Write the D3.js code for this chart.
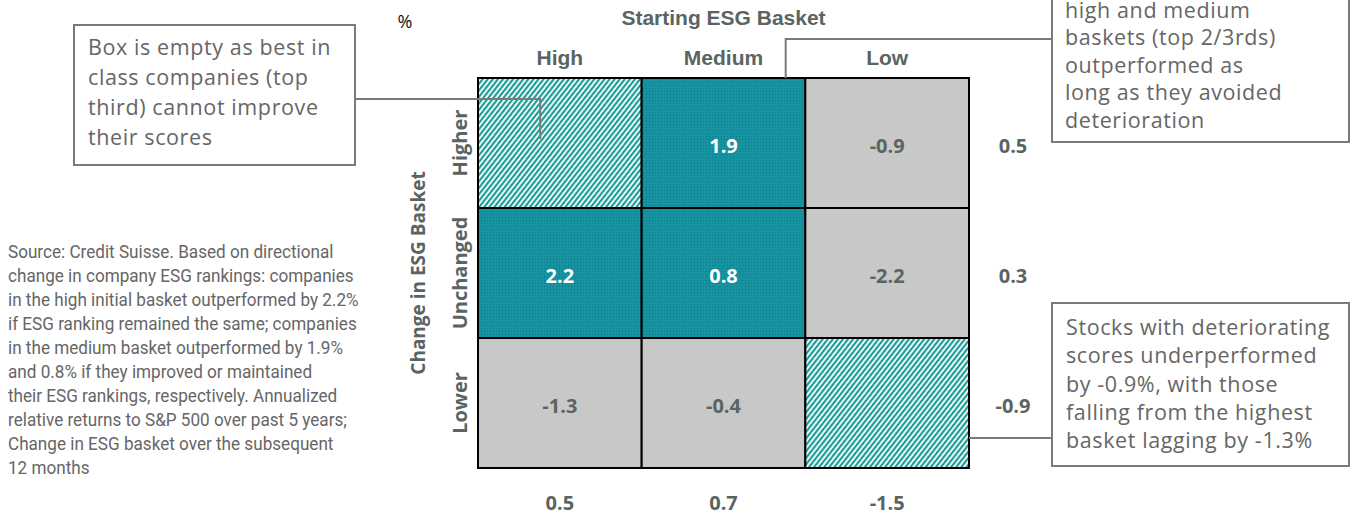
<!DOCTYPE html>
<html>
<head>
<meta charset="utf-8">
<script src="https://cdn.jsdelivr.net/npm/d3@7"></script>
<style>
  html, body { margin: 0; padding: 0; background: #ffffff; }
  svg { display: block; }
</style>
</head>
<body>
<svg id="chart" width="1354" height="516"></svg>
<script>
// Starting ESG basket (columns) and change in ESG basket (rows)
const startBaskets = ["High", "Medium", "Low"];
const changeBaskets = ["Higher", "Unchanged", "Lower"];

// Annualized relative returns, % (null = empty box)
const higherRow    = [null, 1.9, -0.9];
const unchangedRow = [2.2, 0.8, -2.2];
const lowerRow     = [-1.3, -0.4, null];

// Row and column averages
const rowTotals = [0.5, 0.3, -0.9];
const colTotals = [0.5, 0.7, -1.5];

const headerTitle = "Starting ESG Basket";
const sideTitle = "Change in ESG Basket";
const unitLabel = "%";

const noteEmpty = ["Box is empty as best in", "class companies (top", "third) cannot improve", "their scores"];
const noteTop = ["high and medium", "baskets (top 2/3rds)", "outperformed as", "long as they avoided", "deterioration"];
const noteLower = ["Stocks with deteriorating", "scores underperformed", "by -0.9%, with those", "falling from the highest", "basket lagging by -1.3%"];
const sourceLines = [
  "Source: Credit Suisse. Based on directional",
  "change in company ESG rankings: companies",
  "in the high initial basket outperformed by 2.2%",
  "if ESG ranking remained the same; companies",
  "in the medium basket outperformed by 1.9%",
  "and 0.8% if they improved or maintained",
  "their ESG rankings, respectively. Annualized",
  "relative returns to S&P 500 over past 5 years;",
  "Change in ESG basket over the subsequent",
  "12 months"
];

const rows = [higherRow, unchangedRow, lowerRow];
const cells = [];
rows.forEach((r, i) => r.forEach((v, j) => cells.push({row: changeBaskets[i], col: startBaskets[j], value: v})));

const svg = d3.select("#chart");
const grid = {left: 478, right: 969, top: 78, bottom: 468};

const x = d3.scaleBand().domain(startBaskets).range([grid.left, grid.right]);
const y = d3.scaleBand().domain(changeBaskets).range([grid.top, grid.bottom]);

const labelColor = "#5a6462";
const noteColor = "#666666";
const boxColor = "#7a7a7a";
const boldFont = "'Open Sans', 'Noto Sans', sans-serif";
const headFont = "'Liberation Sans', Arial, sans-serif";

// One decimal, plain hyphen for negatives
const fmt = v => d3.format(".1f")(v).replace("\u2212", "-");

// Fill patterns
const defs = svg.append("defs");
const hatch = defs.append("pattern")
  .attr("id", "hatch").attr("patternUnits", "userSpaceOnUse")
  .attr("width", 4).attr("height", 10)
  .attr("patternTransform", "rotate(38)");
hatch.append("rect").attr("width", 4).attr("height", 10).attr("fill", "#ffffff");
hatch.append("rect").attr("width", 2.2).attr("height", 10).attr("fill", "#1c9e98");

const dots = defs.append("pattern")
  .attr("id", "dots").attr("patternUnits", "userSpaceOnUse")
  .attr("width", 3).attr("height", 3);
dots.append("rect").attr("width", 3).attr("height", 3).attr("fill", "#1792a0");
dots.append("rect").attr("x", 1).attr("y", 1).attr("width", 1).attr("height", 1).attr("fill", "#0c7a89");

function cellFill(v) {
  if (v === null) return "url(#hatch)";
  return v > 0 ? "url(#dots)" : "#c8c8c8";
}

// Cells
svg.append("g").selectAll("rect").data(cells).join("rect")
  .attr("x", d => x(d.col)).attr("y", d => y(d.row))
  .attr("width", x.bandwidth()).attr("height", y.bandwidth())
  .attr("fill", d => cellFill(d.value))
  .attr("stroke", "#000").attr("stroke-width", 2);

// Cell values
svg.append("g").selectAll("text").data(cells.filter(d => d.value !== null)).join("text")
  .attr("x", d => x(d.col) + x.bandwidth() / 2)
  .attr("y", d => y(d.row) + y.bandwidth() / 2 + 2)
  .attr("text-anchor", "middle").attr("dominant-baseline", "central")
  .attr("font-family", boldFont).attr("font-weight", 700).attr("font-size", 20)
  .attr("fill", d => d.value > 0 ? "#ffffff" : labelColor)
  .text(d => fmt(d.value));

// Column header labels
svg.append("g").selectAll("text").data(startBaskets).join("text")
  .attr("x", d => x(d) + x.bandwidth() / 2).attr("y", 65)
  .attr("text-anchor", "middle")
  .attr("font-family", headFont).attr("font-weight", 700).attr("font-size", 21)
  .attr("fill", labelColor).text(d => d);

svg.append("text")
  .attr("x", (grid.left + grid.right) / 2).attr("y", 25)
  .attr("text-anchor", "middle")
  .attr("font-family", headFont).attr("font-weight", 700).attr("font-size", 21)
  .attr("fill", labelColor).text(headerTitle);

svg.append("text")
  .attr("x", 405).attr("y", 28).attr("text-anchor", "middle")
  .attr("font-family", boldFont).attr("font-size", 18)
  .attr("fill", "#111").text(unitLabel);

// Row labels (rotated)
svg.append("g").selectAll("text").data(changeBaskets).join("text")
  .attr("transform", d => `translate(459,${y(d) + y.bandwidth() / 2}) rotate(-90)`)
  .attr("text-anchor", "middle").attr("dominant-baseline", "central")
  .attr("font-family", boldFont).attr("font-weight", 700).attr("font-size", 20)
  .attr("fill", labelColor).text(d => d);

svg.append("text")
  .attr("transform", `translate(418,${(grid.top + grid.bottom) / 2}) rotate(-90)`)
  .attr("text-anchor", "middle").attr("dominant-baseline", "central")
  .attr("font-family", boldFont).attr("font-weight", 700).attr("font-size", 19)
  .attr("fill", labelColor).text(sideTitle);

// Row averages
svg.append("g").selectAll("text").data(rowTotals).join("text")
  .attr("x", 1013).attr("y", (d, i) => y(changeBaskets[i]) + y.bandwidth() / 2 + 2)
  .attr("text-anchor", "middle").attr("dominant-baseline", "central")
  .attr("font-family", boldFont).attr("font-weight", 700).attr("font-size", 20)
  .attr("fill", labelColor).text(d => fmt(d));

// Column averages
svg.append("g").selectAll("text").data(colTotals).join("text")
  .attr("x", (d, i) => x(startBaskets[i]) + x.bandwidth() / 2).attr("y", 502)
  .attr("text-anchor", "middle").attr("dominant-baseline", "central")
  .attr("font-family", boldFont).attr("font-weight", 700).attr("font-size", 20)
  .attr("fill", labelColor).text(d => fmt(d));

// Callout boxes with leader lines
function callout(box, lines, textX, firstBaseline, lineGap, leader) {
  const g = svg.append("g");
  g.append("path").attr("d", leader).attr("fill", "none")
    .attr("stroke", boxColor).attr("stroke-width", 2);
  g.append("rect").attr("x", box[0]).attr("y", box[1])
    .attr("width", box[2]).attr("height", box[3])
    .attr("fill", "#fff").attr("stroke", boxColor).attr("stroke-width", 2);
  g.selectAll("text.note").data(lines).join("text").attr("class", "note")
    .attr("x", textX).attr("y", (d, i) => firstBaseline + i * lineGap)
    .attr("font-family", "'Open Sans', 'Noto Sans', sans-serif").attr("font-size", 21.5)
    .attr("letter-spacing", 0.6)
    .attr("fill", noteColor).text(d => d);
}

const cx = c => x(c) + x.bandwidth() * 0.38;
callout([74, 25, 281, 140], noteEmpty, 88, 55, 30,
  `M355,99 H${cx("High")} V139`);
callout([1052, -10, 297, 152], noteTop, 1065, 17.5, 27.6,
  `M1052,39 H${x("Medium") + x.bandwidth() * 0.88} V${grid.top}`);
callout([1052, 303, 297, 163], noteLower, 1066, 335, 28.3,
  `M1052,438 H${grid.right}`);

// Source note, set in a condensed width
const src = svg.append("g").attr("transform", "translate(8,0)");
const srcText = src.selectAll("text").data(sourceLines).join("text")
  .attr("x", 0).attr("y", (d, i) => 258 + i * 24)
  .attr("font-family", "Roboto, 'Liberation Sans', sans-serif").attr("font-size", 17.5)
  .attr("fill", "#666666").text(d => d);
const widest = d3.max(srcText.nodes(), n => n.getComputedTextLength());
src.attr("transform", `translate(8,0) scale(${351 / widest},1)`);
</script>
</body>
</html>
